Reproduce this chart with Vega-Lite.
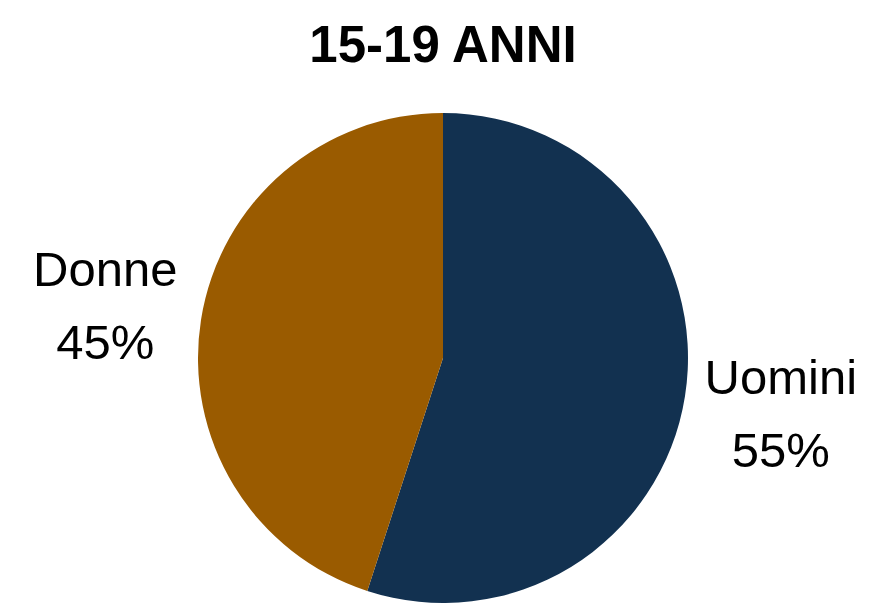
{
  "$schema": "https://vega.github.io/schema/vega-lite/v6.json",
  "width": 490,
  "height": 490,
  "autosize": {"type": "none"},
  "padding": {"left": 198, "top": 113, "right": 181, "bottom": 4},
  "background": "white",
  "title": {
    "text": "15-19 ANNI",
    "font": "Liberation Sans",
    "fontSize": 51,
    "fontWeight": "bold",
    "color": "#000000",
    "anchor": "middle",
    "frame": "group",
    "baseline": "alphabetic",
    "offset": 0
  },
  "data": {
    "values": [
      {"gender": "Uomini", "value": 55, "ord": 1, "label": "Uomini\n55%"},
      {"gender": "Donne", "value": 45, "ord": 2, "label": "Donne\n45%"}
    ]
  },
  "encoding": {
    "theta": {"field": "value", "type": "quantitative", "stack": true},
    "order": {"field": "ord", "type": "quantitative"},
    "color": {
      "field": "gender",
      "type": "nominal",
      "scale": {"domain": ["Uomini", "Donne"], "range": ["#123150", "#9A5B00"]},
      "legend": null
    }
  },
  "layer": [
    {"mark": {"type": "arc"}},
    {
      "mark": {
        "type": "text",
        "radius": 342,
        "dy": -33,
        "font": "Liberation Sans",
        "fontSize": 49,
        "lineBreak": "\n",
        "lineHeight": 73,
        "align": "center",
        "baseline": "middle",
        "color": "#000000"
      },
      "encoding": {
        "text": {"field": "label"},
        "color": {"value": "#000000"}
      }
    }
  ],
  "view": {"stroke": null}
}
